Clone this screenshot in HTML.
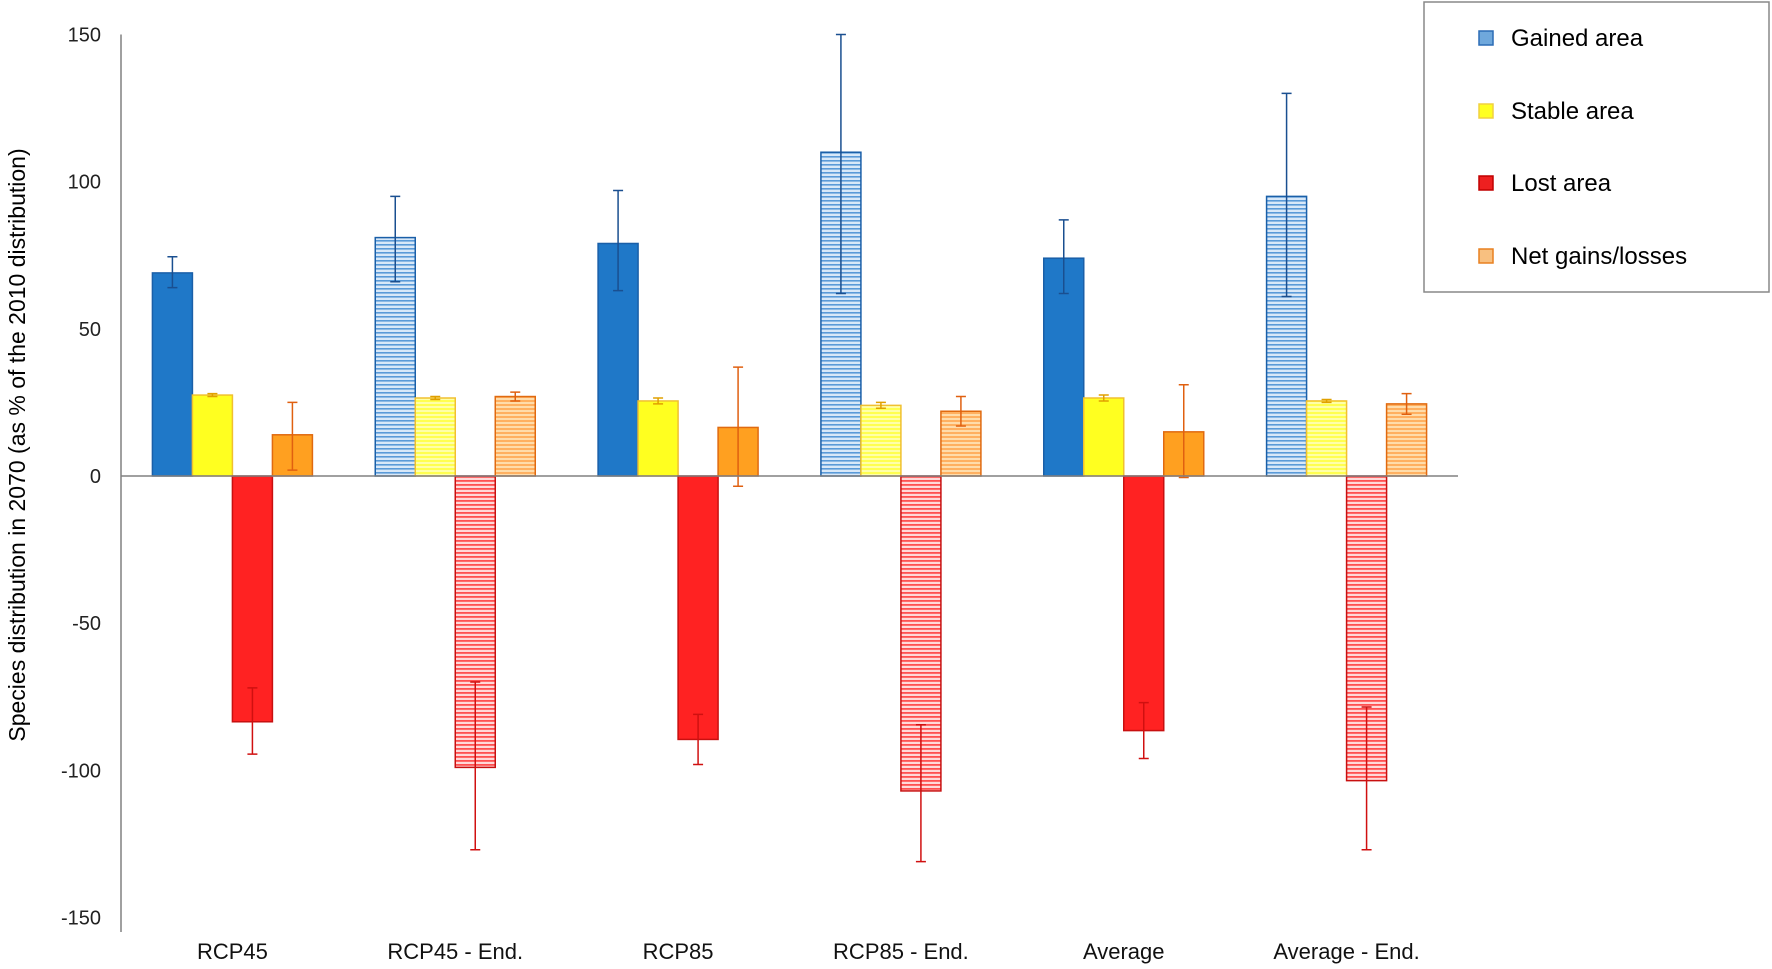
<!DOCTYPE html>
<html><head><meta charset="utf-8"><style>
html,body{margin:0;padding:0;background:#fff;}
svg{display:block;font-family:"Liberation Sans",Arial,sans-serif;}
</style></head><body>
<svg id="chart" width="1772" height="969" viewBox="0 0 1772 969" xmlns="http://www.w3.org/2000/svg">
<defs>
<pattern id="pBlue" width="8" height="4" patternUnits="userSpaceOnUse"><rect width="8" height="4" fill="#d8e8f8"/><rect width="8" height="1.6" fill="#5a9ad8"/></pattern>
<pattern id="pYellow" width="8" height="4" patternUnits="userSpaceOnUse"><rect width="8" height="4" fill="#ffffa8"/><rect width="8" height="2" fill="#ffff50"/></pattern>
<pattern id="pRed" width="8" height="4" patternUnits="userSpaceOnUse"><rect width="8" height="4" fill="#ffd8d8"/><rect width="8" height="1.8" fill="#ff5050"/></pattern>
<pattern id="pOrange" width="8" height="4" patternUnits="userSpaceOnUse"><rect width="8" height="4" fill="#ffdcaa"/><rect width="8" height="2" fill="#ffb060"/></pattern>
</defs>
<g id="plot"></g>
<text transform="translate(25,445) rotate(-90)" text-anchor="middle" font-size="23" fill="#000">Species distribution in 2070 (as % of the 2010 distribution)</text>
<g>
<rect x="1424" y="2" width="345" height="290" fill="#fff" stroke="#888" stroke-width="1.5"/>
<g><rect x="1479" y="31" width="14" height="14" fill="#6fa8dc" stroke="#2b6cb5" stroke-width="1.5"/><text x="1511" y="46" font-size="24">Gained area</text></g>
<g><rect x="1479" y="104" width="14" height="14" fill="#ffff20" stroke="#f0d040" stroke-width="1.5"/><text x="1511" y="119" font-size="24">Stable area</text></g>
<g><rect x="1479" y="176" width="14" height="14" fill="#ee2020" stroke="#c00000" stroke-width="1.5"/><text x="1511" y="191" font-size="24">Lost area</text></g>
<g><rect x="1479" y="249" width="14" height="14" fill="#f8c080" stroke="#e88020" stroke-width="1.5"/><text x="1511" y="264" font-size="24">Net gains/losses</text></g>
</g>
</svg>
<script>
const categories = ["RCP45","RCP45 - End.","RCP85","RCP85 - End.","Average","Average - End."];
const endFlags = [false,true,false,true,false,true];
const gained = [69,81,79,110,74,95];
const gainedHi = [74.5,95,97,150,87,130];
const gainedLo = [64,66,63,62,62,61];
const stable = [27.5,26.5,25.5,24,26.5,25.5];
const stableHi = [28,27,26.5,25,27.5,26];
const stableLo = [27,26,24.5,23,25.5,25];
const lost = [-83.5,-99,-89.5,-107,-86.5,-103.5];
const lostHi = [-72,-70,-81,-84.5,-77,-78.5];
const lostLo = [-94.5,-127,-98,-131,-96,-127];
const net = [14,27,16.5,22,15,24.5];
const netHi = [25,28.5,37,27,31,28];
const netLo = [2,25.5,-3.5,17,-0.5,21];
const yTicks = [150,100,50,0,-50,-100,-150];

const NS="http://www.w3.org/2000/svg";
const g=document.getElementById('plot');
const X0=121,X1=1458,Y0=476,PPU=(918-35)/300;
const y=v=>Y0-v*PPU;
const gw=(X1-X0)/categories.length;
const cx=i=>X0+gw*(i+0.5);
function mk(t,a){const e=document.createElementNS(NS,t);for(const k in a)e.setAttribute(k,a[k]);g.appendChild(e);return e;}
const ax=mk('line',{x1:X0,y1:y(150),x2:X0,y2:932,stroke:'#808080','stroke-width':1.5});


yTicks.forEach(t=>{const e=mk('text',{x:101,y:y(t)+7,'text-anchor':'end','font-size':20,fill:'#222'});e.textContent=t;

});
const series=[
 {name:'gained',v:gained,hi:gainedHi,lo:gainedLo,fill:'#1f78c8',pat:'url(#pBlue)',stroke:'#1a5fa8',err:'#1a4f90',off:-80},
 {name:'stable',v:stable,hi:stableHi,lo:stableLo,fill:'#ffff20',pat:'url(#pYellow)',stroke:'#f0c030',err:'#e0a000',off:-40},
 {name:'lost',v:lost,hi:lostHi,lo:lostLo,fill:'#ff2222',pat:'url(#pRed)',stroke:'#c81010',err:'#d01010',off:0},
 {name:'net',v:net,hi:netHi,lo:netLo,fill:'#ffa020',pat:'url(#pOrange)',stroke:'#e06a10',err:'#e06010',off:40}];
const BW=40;
categories.forEach((c,i)=>{
 series.forEach(s=>{
  const v=s.v[i];const x=cx(i)+s.off;
  const r=mk('rect',{x:x,y:Math.min(y(v),Y0),width:BW,height:Math.abs(y(v)-Y0),fill:endFlags[i]?s.pat:s.fill,stroke:s.stroke,'stroke-width':1.5});
  
  
  const ex=x+BW/2;
  const el=mk('path',{d:`M${ex},${y(s.hi[i])}V${y(s.lo[i])}M${ex-5},${y(s.hi[i])}h10M${ex-5},${y(s.lo[i])}h10`,stroke:s.err,'stroke-width':1.5,fill:'none'});
  
  
 });
 const t=mk('text',{x:cx(i),y:959,'text-anchor':'middle','font-size':22,fill:'#111'});t.textContent=c;
 
 
});
const z=mk('line',{x1:X0,y1:Y0,x2:X1,y2:Y0,stroke:'#808080','stroke-width':1.5});


</script>
</body></html>
